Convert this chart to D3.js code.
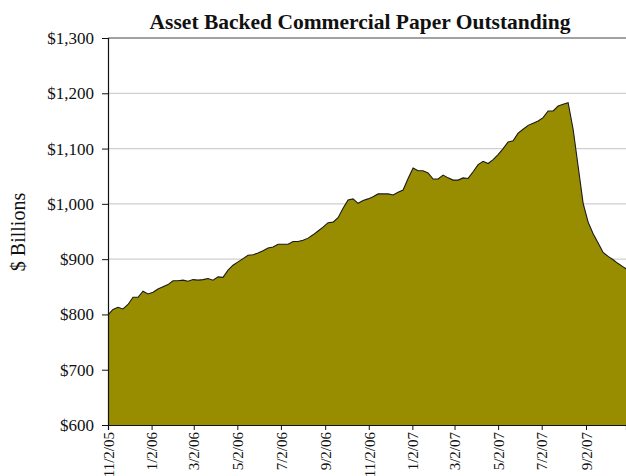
<!DOCTYPE html>
<script src="https://d3js.org/d3.v7.min.js"></script>
<body style="margin: 0; background: #fff;">
<svg id="chart" width="626" height="476"></svg>
</body>

<style>
  text { font-family: "Liberation Serif", "Times New Roman", serif; fill: #111; }
  .grid line { stroke: #cfcfcf; stroke-width: 1.2px; }
</style>

<script>

// weekly readings, billions of dollars, first week 11/2/05
var startDate = "2005-11-02";
var values = [
  799, 809, 813, 810, 818, 831, 831, 842, 837, 840,
  846, 850, 854, 861, 861, 862, 860, 863, 862, 863,
  865, 862, 868, 867, 880, 889, 895, 901, 907, 908,
  911, 915, 920, 922, 927, 927, 927, 932, 932, 934,
  938, 944, 951, 958, 966, 967, 975, 992, 1007, 1009,
  1001, 1006, 1009, 1013, 1018, 1018, 1018, 1016, 1021, 1025,
  1046, 1065, 1060, 1060, 1056, 1045, 1045, 1052, 1047, 1043,
  1043, 1047, 1046, 1058, 1071, 1077, 1073, 1080, 1089, 1100,
  1112, 1114, 1128, 1135, 1142, 1146, 1150, 1156, 1168, 1168,
  1177, 1180, 1183, 1135, 1068, 1001, 967, 946, 929, 912,
  905, 899, 892, 886, 880
];
var xTicks = ["2005-11-02", "2006-01-02", "2006-03-02", "2006-05-02", "2006-07-02", "2006-09-02",
              "2006-11-02", "2007-01-02", "2007-03-02", "2007-05-02", "2007-07-02", "2007-09-02"];
var yTicks = [600, 700, 800, 900, 1000, 1100, 1200, 1300];

var parse = d3.timeParse("%Y-%m-%d");
var t0 = parse(startDate);
var data = values.map(function(v, i) { return { date: d3.timeDay.offset(t0, 7 * i), value: v }; });

var svg = d3.select("#chart");
var plotLeft = 108, plotRight = 626, plotTop = 38, plotBottom = 425;

var x = d3.scaleTime()
    .domain([t0, parse("2007-10-28")])
    .range([plotLeft, plotRight]);

var y = d3.scaleLinear()
    .domain([600, 1300])
    .range([plotBottom, plotTop]);

// gridlines
svg.append("g")
    .attr("class", "grid")
  .selectAll("line")
  .data(yTicks.slice(1, -1))
  .join("line")
    .attr("x1", plotLeft).attr("x2", plotRight)
    .attr("y1", function(d) { return y(d); })
    .attr("y2", function(d) { return y(d); });

var area = d3.area()
    .x(function(d) { return x(d.date); })
    .y0(y(600))
    .y1(function(d) { return y(d.value); });

var line = d3.line()
    .x(function(d) { return x(d.date); })
    .y(function(d) { return y(d.value); });

svg.append("path")
    .datum(data)
    .attr("d", area)
    .attr("fill", "#988d00");

svg.append("path")
    .datum(data)
    .attr("d", line)
    .attr("fill", "none")
    .attr("stroke", "#1a1a1a")
    .attr("stroke-width", 1.1);

// top border
svg.append("line")
    .attr("x1", plotLeft).attr("x2", plotRight)
    .attr("y1", y(1300)).attr("y2", y(1300))
    .attr("stroke", "#444").attr("stroke-width", 1);

// y axis
var yAxis = svg.append("g")
    .attr("transform", "translate(" + plotLeft + ",0)")
    .call(d3.axisLeft(y).tickValues(yTicks).tickSize(6).tickPadding(8)
      .tickFormat(function(d) { return "$" + d3.format(",")(d); }));
yAxis.select(".domain").attr("stroke", "#111").attr("stroke-width", 1.2);
yAxis.selectAll(".tick line").attr("stroke", "#111");
yAxis.selectAll("text")
    .style("font-size", "17px")
    .style("font-family", "Liberation Serif, serif")
    .attr("fill", "#111");

// x axis
var xAxis = svg.append("g")
    .attr("transform", "translate(0," + plotBottom + ")")
    .call(d3.axisBottom(x).tickValues(xTicks.map(parse)).tickSizeOuter(0).tickSize(5)
      .tickFormat(d3.timeFormat("%-m/%-d/%y")));
xAxis.select(".domain").attr("stroke", "#111").attr("stroke-width", 1.2);
xAxis.selectAll(".tick line").attr("stroke", "#111");
xAxis.selectAll("text")
    .style("font-size", "15px")
    .style("font-family", "Liberation Serif, serif")
    .attr("fill", "#111")
    .attr("text-anchor", "end")
    .attr("transform", "rotate(-90)")
    .attr("x", -7)
    .attr("y", 0)
    .attr("dy", "0.35em");

// titles
svg.append("text")
    .attr("x", 360)
    .attr("y", 29)
    .attr("text-anchor", "middle")
    .style("font-size", "21.5px")
    .style("font-weight", "bold")
    .text("Asset Backed Commercial Paper Outstanding");

svg.append("text")
    .attr("transform", "translate(25,232) rotate(-90)")
    .attr("text-anchor", "middle")
    .style("font-size", "20px")
    .text("$ Billions");

</script>
